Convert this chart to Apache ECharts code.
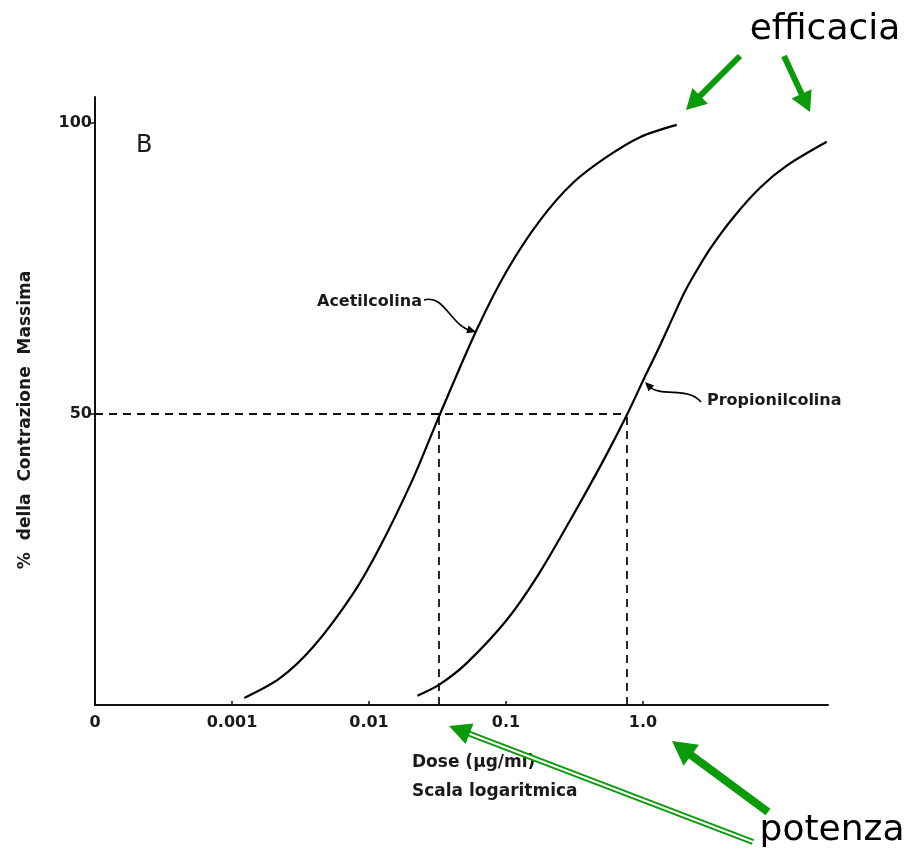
<!DOCTYPE html>
<html>
<head>
<meta charset="utf-8">
<script src="https://cdn.jsdelivr.net/npm/echarts@6/dist/echarts.min.js"></script>
<style>
html,body{margin:0;padding:0;background:#fff;}
#chart{width:910px;height:854px;}
</style>
</head>
<body>
<div id="chart"></div>
<script>
// ---- data (x = log10 of dose in µg/ml, y = % of maximal contraction) ----
const xTickValues = [-4, -3, -2, -1, 0];
const xTickLabels = ['0', '0.001', '0.01', '0.1', '1.0'];
const yTickValues = [50, 100];

const acetilLogDose = [-2.910, -2.650, -2.407, -2.115, -1.920, -1.677, -1.482, -1.214, -0.995, -0.752, -0.509, -0.265, -0.022, 0.246];
const acetilPct     = [1.2, 4.6, 10.0, 19.2, 27.2, 39.0, 50.0, 64.5, 74.6, 83.3, 89.8, 94.2, 97.6, 99.7];

const propLogDose = [-1.647, -1.487, -1.287, -0.995, -0.764, -0.509, -0.290, -0.119, 0.015, 0.124, 0.221, 0.300, 0.380, 0.489, 0.659, 0.854, 1.049, 1.341];
const propPct     = [1.6, 3.5, 7.2, 14.6, 22.4, 32.7, 42.0, 49.8, 56.5, 61.8, 66.8, 70.8, 74.2, 78.4, 83.8, 88.9, 92.7, 96.8];

const ec50LogDose = [-1.494, -0.119];
const halfPct = 50;

// ---- helpers ----
function zip(xs, ys) { return xs.map((x, i) => [x, ys[i]]); }

function arrowHead(x1, y1, x2, y2, len, half) {
  const dx = x2 - x1, dy = y2 - y1;
  const L = Math.sqrt(dx * dx + dy * dy);
  const ux = dx / L, uy = dy / L;
  const bx = x2 - ux * len, by = y2 - uy * len;
  return [[x2, y2], [bx - uy * half, by + ux * half], [bx + uy * half, by - ux * half]];
}
function arrowShaftEnd(x1, y1, x2, y2, len) {
  const dx = x2 - x1, dy = y2 - y1;
  const L = Math.sqrt(dx * dx + dy * dy);
  return [x2 - dx / L * len * 0.8, y2 - dy / L * len * 0.8];
}
const GREEN = '#0a9a0a';
function greenArrow(x1, y1, x2, y2, w, len, half) {
  const e = arrowShaftEnd(x1, y1, x2, y2, len);
  return [
    { type: 'line', shape: { x1: x1, y1: y1, x2: e[0], y2: e[1] }, style: { stroke: GREEN, lineWidth: w }, z: 100 },
    { type: 'polygon', shape: { points: arrowHead(x1, y1, x2, y2, len, half) }, style: { fill: GREEN }, z: 100 }
  ];
}
function doubleArrow(x1, y1, x2, y2) {
  const e = arrowShaftEnd(x1, y1, x2, y2, 22);
  return [
    { type: 'line', shape: { x1: x1, y1: y1, x2: e[0], y2: e[1] }, style: { stroke: GREEN, lineWidth: 6 }, z: 100 },
    { type: 'line', shape: { x1: x1, y1: y1, x2: e[0], y2: e[1] }, style: { stroke: '#ffffff', lineWidth: 2 }, z: 101 },
    { type: 'polygon', shape: { points: arrowHead(x1, y1, x2, y2, 22, 11) }, style: { fill: GREEN }, z: 102 }
  ];
}

const labelFont = '"DejaVu Sans", "Liberation Sans", sans-serif';
const txtColor = '#1a1a1a';

const chart = echarts.init(document.getElementById('chart'), null, { renderer: 'canvas' });

const option = {
  animation: false,
  backgroundColor: '#ffffff',
  grid: { left: 95, right: 82, top: 97, bottom: 149 },
  xAxis: {
    type: 'value',
    min: -4,
    max: 1.35,
    splitLine: { show: false },
    axisLine: { lineStyle: { color: '#111', width: 2 } },
    axisTick: { show: true, inside: true, length: 4, customValues: [-3, -2, -1, 0], lineStyle: { color: '#111', width: 1.5 } },
    axisLabel: {
      customValues: xTickValues,
      formatter: function (v) { const i = xTickValues.indexOf(v); return i >= 0 ? xTickLabels[i] : ''; },
      color: txtColor, fontFamily: labelFont, fontSize: 16, fontWeight: 'bold', margin: 10
    }
  },
  yAxis: {
    type: 'value',
    min: 0,
    max: 104.5,
    splitLine: { show: false },
    axisLine: { show: true, onZero: false, lineStyle: { color: '#111', width: 2 } },
    axisTick: { show: true, length: 5, customValues: yTickValues, lineStyle: { color: '#111', width: 1.5 } },
    axisLabel: {
      customValues: yTickValues,
      color: txtColor, fontFamily: labelFont, fontSize: 16, fontWeight: 'bold', margin: 3
    }
  },
  series: [
    {
      name: 'Acetilcolina',
      type: 'line',
      data: zip(acetilLogDose, acetilPct),
      smooth: 0.3,
      symbol: 'none',
      lineStyle: { color: '#000', width: 2.2 },
      z: 5
    },
    {
      name: 'Propionilcolina',
      type: 'line',
      data: zip(propLogDose, propPct),
      smooth: 0.3,
      symbol: 'none',
      lineStyle: { color: '#000', width: 2.2 },
      z: 5,
      markLine: {
        silent: true,
        symbol: 'none',
        label: { show: false },
        lineStyle: { color: '#111', width: 1.8, type: [8, 6] },
        data: [
          [{ coord: [-4, halfPct] }, { coord: [ec50LogDose[1], halfPct] }],
          [{ coord: [ec50LogDose[0], 0] }, { coord: [ec50LogDose[0], halfPct] }],
          [{ coord: [ec50LogDose[1], 0] }, { coord: [ec50LogDose[1], halfPct] }]
        ]
      }
    }
  ],
  graphic: [
    // panel letter
    { type: 'text', x: 136, y: 146, style: { text: 'B', font: '24px ' + labelFont, fill: txtColor, verticalAlign: 'middle' } },
    // y axis title
    { type: 'text', x: 26, y: 420, rotation: Math.PI / 2,
      style: { text: '%  della  Contrazione  Massima', font: 'bold 17px ' + labelFont, fill: txtColor, align: 'center', verticalAlign: 'middle' } },
    // x axis title
    { type: 'text', x: 412, y: 763, style: { text: 'Dose (µg/ml)', font: 'bold 17px ' + labelFont, fill: txtColor, verticalAlign: 'middle' } },
    { type: 'text', x: 412, y: 792, style: { text: 'Scala logaritmica', font: 'bold 17px ' + labelFont, fill: txtColor, verticalAlign: 'middle' } },
    // series labels
    { type: 'text', x: 317, y: 302, style: { text: 'Acetilcolina', font: 'bold 16px ' + labelFont, fill: txtColor, verticalAlign: 'middle' } },
    { type: 'bezierCurve', shape: { x1: 424, y1: 300, cpx1: 445, cpy1: 294, cpx2: 450, cpy2: 326, x2: 472, y2: 331 },
      style: { stroke: '#000', lineWidth: 1.6, fill: null } },
    { type: 'polygon', shape: { points: arrowHead(460, 327, 476, 332, 9, 4) }, style: { fill: '#000' } },
    { type: 'text', x: 707, y: 401, style: { text: 'Propionilcolina', font: 'bold 16px ' + labelFont, fill: txtColor, verticalAlign: 'middle' } },
    { type: 'bezierCurve', shape: { x1: 701, y1: 402, cpx1: 688, cpy1: 386, cpx2: 662, cpy2: 398, x2: 648, y2: 386 },
      style: { stroke: '#000', lineWidth: 1.6, fill: null } },
    { type: 'polygon', shape: { points: arrowHead(655, 392, 645, 382, 9, 4) }, style: { fill: '#000' } },
    // green annotations
    { type: 'text', x: 825, y: 30, style: { text: 'efficacia', font: '36px "DejaVu Sans", sans-serif', fill: '#000', align: 'center', verticalAlign: 'middle' }, z: 100 },
    { type: 'text', x: 832, y: 831, style: { text: 'potenza', font: '36px "DejaVu Sans", sans-serif', fill: '#000', align: 'center', verticalAlign: 'middle' }, z: 100 }
  ]
    .concat(greenArrow(740, 56, 686, 110, 6, 20, 11))
    .concat(greenArrow(784, 56, 810, 112, 6, 20, 11))
    .concat(greenArrow(768, 812, 672, 741, 8, 24, 13))
    .concat(doubleArrow(753, 842, 449, 726))
};

chart.setOption(option);
</script>
</body>
</html>
